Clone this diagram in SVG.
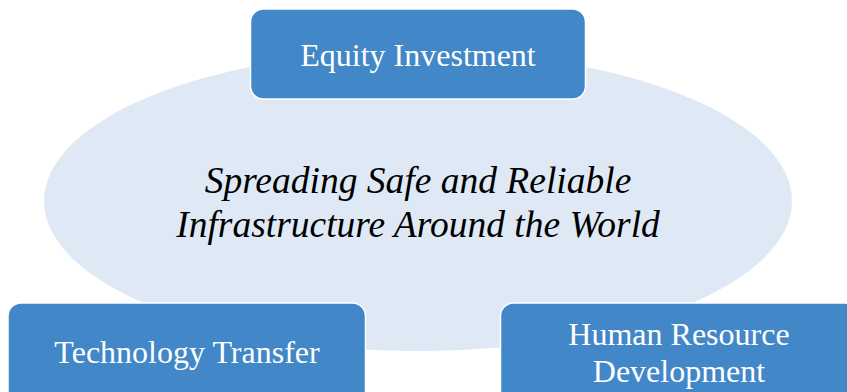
<svg xmlns="http://www.w3.org/2000/svg" width="847" height="392" viewBox="0 0 847 392">
<style>
.box{fill:#4287c7;stroke:#ffffff;stroke-width:1.5}
.lbl{font-family:"Liberation Serif","Times New Roman",serif;font-size:32px;fill:#ffffff;text-anchor:middle}
.ctr{font-family:"Liberation Serif","Times New Roman",serif;font-size:37.5px;font-style:italic;fill:#000000;text-anchor:middle}
</style>
<rect width="847" height="392" fill="#ffffff"/>
<g id="center">
<ellipse cx="418" cy="201" rx="374" ry="150" fill="#dee9f5"/>
<text class="ctr" x="418" y="193">Spreading Safe and Reliable</text>
<text class="ctr" x="418" y="237">Infrastructure Around the World</text>
</g>
<g id="connectors"></g>
<g id="equity">
<rect class="box" x="250.5" y="9" width="335" height="90" rx="13"/>
<text class="lbl" x="418" y="66">Equity Investment</text>
</g>
<g id="technology">
<rect class="box" x="8" y="303" width="357.5" height="110" rx="13"/>
<text class="lbl" x="187" y="363">Technology Transfer</text>
</g>
<g id="human">
<rect class="box" x="500.5" y="303" width="357.5" height="110" rx="13"/>
<text class="lbl" x="679" y="345">Human Resource</text>
<text class="lbl" x="679" y="381.5">Development</text>
</g>
</svg>
